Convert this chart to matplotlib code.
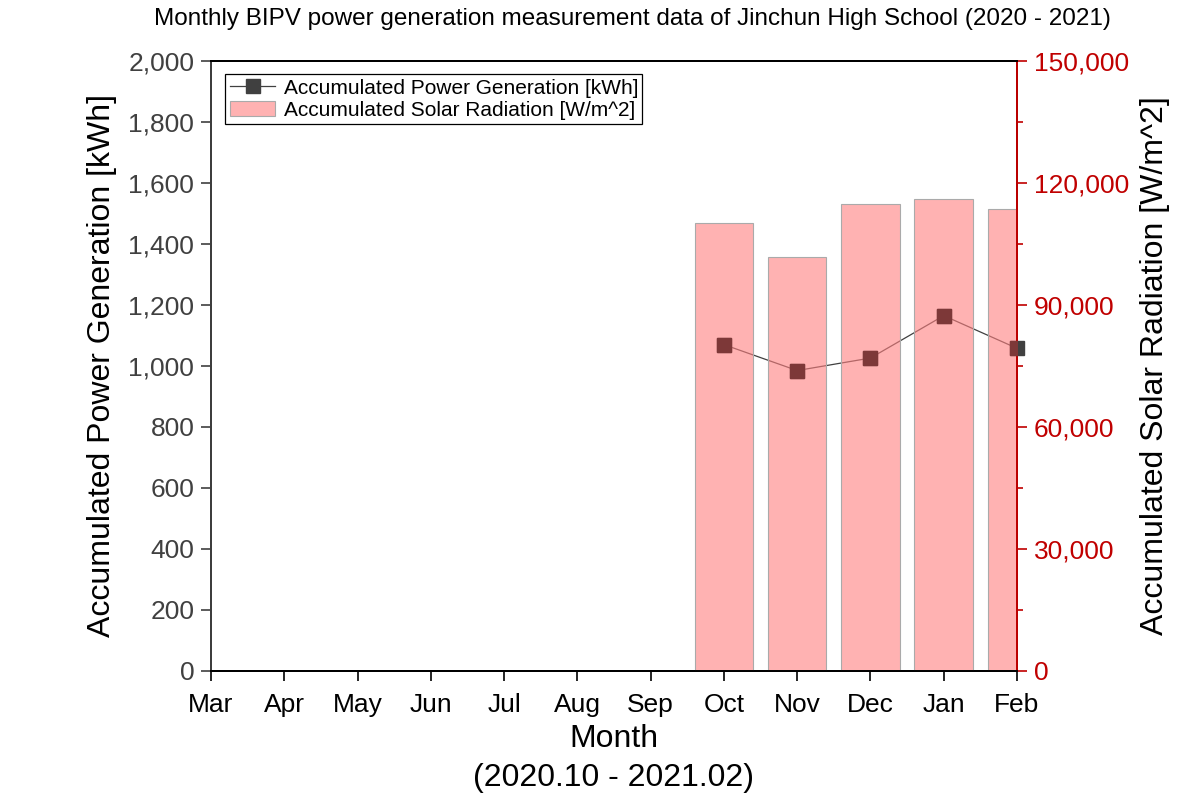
import matplotlib.pyplot as plt
import numpy as np
from matplotlib.ticker import FuncFormatter, MultipleLocator

plt.rcParams['font.family'] = ['Liberation Sans', 'DejaVu Sans']

# data
months = ['Mar', 'Apr', 'May', 'Jun', 'Jul', 'Aug', 'Sep', 'Oct', 'Nov', 'Dec', 'Jan', 'Feb']
meas_months = ['Oct', 'Nov', 'Dec', 'Jan', 'Feb']
power_kwh = [1070, 985, 1026, 1165, 1058]
radiation = [110200, 101900, 114900, 116100, 113600]

red = '#c00000'
fmt = FuncFormatter(lambda v, p: '{:,.0f}'.format(v))

fig = plt.figure(figsize=(11.82, 7.95), dpi=100)
ax1 = fig.add_axes([0.1785, 0.156, 0.6819, 0.7673])
ax2 = ax1.twinx()

pos = [months.index(m) for m in meas_months]

# line (drawn under the bars)
ax1.plot(pos, power_kwh, '-s', color='#404040', lw=0.9, ms=10,
         label='Accumulated Power Generation [kWh]', clip_on=False, zorder=1)
ax1.set_xlim(0, len(months) - 1)
ax1.set_ylim(0, 2000)
ax1.yaxis.set_major_locator(MultipleLocator(200))
ax1.yaxis.set_major_formatter(fmt)
ax1.set_xticks(range(len(months)))
ax1.set_xticklabels(months)
ax1.tick_params(axis='y', labelsize=19, labelcolor='#404040', length=7, width=1.2, color='#404040', pad=5)
ax1.tick_params(axis='x', labelsize=19, length=7, width=1.2, pad=9)
ax1.set_ylabel('Accumulated Power Generation [kWh]', fontsize=23, labelpad=8)
ax1.set_xlabel('Month\n(2020.10 - 2021.02)', fontsize=23, labelpad=5, linespacing=1.4)

# bars
ax2.bar(pos, radiation, width=0.8, color=(1, 0.5, 0.5, 0.6),
        edgecolor='#aaaaaa', linewidth=0.8,
        label='Accumulated Solar Radiation [W/m^2]')
# markers seen through the bars
ax2.plot(pos, [v * 75 for v in power_kwh], 's', color='#7d3838', ms=10, zorder=3)
ax2.set_ylim(0, 150000)
ax2.yaxis.set_major_locator(MultipleLocator(30000))
ax2.yaxis.set_minor_locator(MultipleLocator(15000))
ax2.yaxis.set_major_formatter(fmt)
ax2.tick_params(axis='y', which='major', labelsize=19, labelcolor=red, color=red, length=7, width=1.2, pad=5)
ax2.tick_params(axis='y', which='minor', color=red, length=4, width=1.2)
ax2.set_ylabel('Accumulated Solar Radiation [W/m^2]', fontsize=23, labelpad=8)

for ax in (ax1, ax2):
    for s in ax.spines.values():
        s.set_linewidth(1.4)
ax2.spines['right'].set_color(red)
ax2.spines['left'].set_color('#404040')

h1, l1 = ax1.get_legend_handles_labels()
h2, l2 = ax2.get_legend_handles_labels()
leg = ax2.legend(h1 + h2, l1 + l2, loc='upper left', fontsize=15, fancybox=False,
                 edgecolor='black', framealpha=1, borderpad=0.2, handlelength=2.2,
                 labelspacing=0.15, handletextpad=0.4, bbox_to_anchor=(0.005, 0.995))
leg.get_frame().set_linewidth(0.9)

fig.suptitle('Monthly BIPV power generation measurement data of Jinchun High School (2020 - 2021)',
             fontsize=17.5, y=0.99, x=0.535)

plt.savefig('out.png', dpi=100)
